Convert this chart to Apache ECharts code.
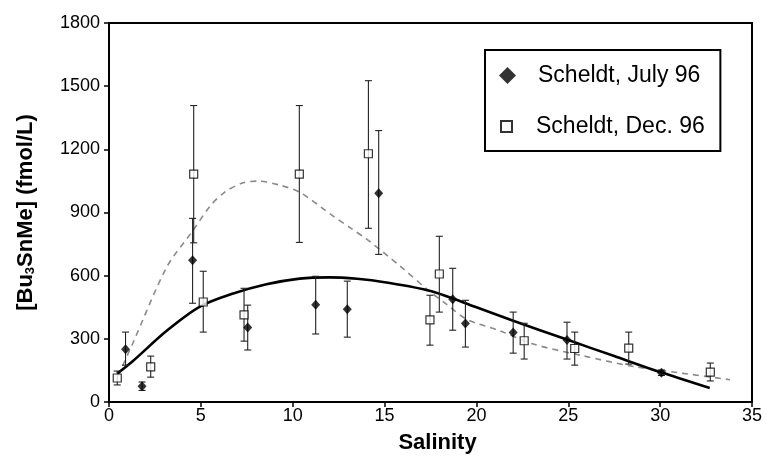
<!DOCTYPE html>
<html>
<head>
<meta charset="utf-8">
<script src="https://cdn.jsdelivr.net/npm/echarts@6/dist/echarts.min.js"></script>
<style>
html,body{margin:0;padding:0;background:#fff;}
#chart{width:767px;height:459px;}
</style>
</head>
<body>
<div id="chart"></div>
<script>
// ---- Data ----
var xTicks = [0, 5, 10, 15, 20, 25, 30, 35];
var yTicks = [0, 300, 600, 900, 1200, 1500, 1800];

// Scheldt, July 96 (filled diamonds)
var julyS  = [0.9, 1.8, 4.55, 7.55, 11.25, 12.97, 14.68, 18.71, 19.4, 22.0, 24.93, 30.07];
var julyV  = [251, 75, 673, 354, 462, 441, 991, 488, 373, 330, 294, 139];
var julyLo = [175, 55, 469, 247, 323, 308, 701, 341, 261, 232, 204, 126];
var julyHi = [332, 95, 872, 460, 597, 574, 1289, 635, 483, 427, 379, 152];

// Scheldt, Dec. 96 (open squares)
var decS  = [0.45, 2.27, 4.61, 5.13, 7.35, 10.36, 14.12, 17.47, 17.98, 22.6, 25.35, 28.29, 32.73];
var decV  = [114, 167, 1082, 475, 414, 1082, 1179, 390, 608, 291, 254, 256, 142];
var decLo = [81, 118, 756, 332, 289, 758, 825, 270, 427, 204, 175, 180, 100];
var decHi = [147, 218, 1408, 621, 540, 1408, 1526, 507, 787, 374, 332, 332, 185];

// Fitted curves
var julyFitS = [0.45, 1.32, 3.14, 4.95, 6.76, 8.57, 10.38, 12, 13.5, 15, 17.5, 20, 22, 25, 27.5, 30, 32.7];
var julyFitV = [135, 196, 338, 453, 515, 559, 586, 592, 585, 569, 527, 450, 386, 294, 218, 142, 66];
var decFitS = [0.5, 1.32, 3.14, 4.55, 5.5, 6.3, 7.3, 8.13, 9.3, 10.4, 12.2, 13.12, 14.03, 15.84, 17.3, 18.38, 19.47, 21.28, 23.1, 25.82, 28.54, 31.26, 33.8];
var decFitV = [125, 284, 640, 812, 930, 997, 1041, 1049, 1030, 995, 883, 828, 773, 646, 536, 464, 393, 338, 275, 219, 169, 136, 106];

var julyName = 'Scheldt, July 96';
var decName = 'Scheldt, Dec. 96';

function zip2(a, b) { return a.map(function (v, i) { return [v, b[i]]; }); }
function zip3(a, b, c) { return a.map(function (v, i) { return [v, b[i], c[i]]; }); }

function errRender(params, api) {
  var x = api.value(0), lo = api.value(1), hi = api.value(2);
  var p1 = api.coord([x, hi]), p2 = api.coord([x, lo]);
  var w = 3.5;
  var st = { stroke: '#222', lineWidth: 1.1 };
  return {
    type: 'group',
    children: [
      { type: 'line', shape: { x1: p1[0], y1: p1[1], x2: p2[0], y2: p2[1] }, style: st },
      { type: 'line', shape: { x1: p1[0] - w, y1: p1[1], x2: p1[0] + w, y2: p1[1] }, style: st },
      { type: 'line', shape: { x1: p2[0] - w, y1: p2[1], x2: p2[0] + w, y2: p2[1] }, style: st }
    ]
  };
}

var FONT = '"Liberation Sans", Arial, sans-serif';
var chart = echarts.init(document.getElementById('chart'), null, { renderer: 'canvas' });

chart.setOption({
  animation: false,
  backgroundColor: '#fff',
  textStyle: { fontFamily: FONT, color: '#000' },
  grid: {
    left: 109, right: 15, top: 23, bottom: 56,
    show: true, borderColor: '#000', borderWidth: 2, backgroundColor: 'transparent'
  },
  legend: [
    {
      data: [julyName],
      left: 485, top: 50,
      orient: 'vertical',
      itemWidth: 17, itemHeight: 17,
      padding: [14, 20, 64, 14],
      borderColor: '#000', borderWidth: 2, backgroundColor: '#fff',
      selectedMode: false,
      formatter: function (n) { return '{t|' + n + '}'; },
      textStyle: {
        fontFamily: FONT, fontSize: 23, color: '#000',
        rich: { t: { fontFamily: FONT, fontSize: 23, color: '#000', padding: [0, 0, 0, 17] } }
      }
    },
    {
      data: [decName],
      left: 500, top: 115,
      orient: 'vertical',
      itemWidth: 11, itemHeight: 11,
      padding: 0,
      selectedMode: false,
      formatter: function (n) { return '{t|' + n + '}'; },
      textStyle: {
        fontFamily: FONT, fontSize: 23, color: '#000',
        rich: { t: { fontFamily: FONT, fontSize: 23, color: '#000', padding: [0, 0, 0, 19] } }
      }
    }
  ],
  xAxis: {
    type: 'value', min: xTicks[0], max: xTicks[xTicks.length - 1], interval: 5,
    name: 'Salinity', nameLocation: 'middle', nameGap: 30,
    nameTextStyle: { fontFamily: FONT, fontSize: 22, fontWeight: 'bold', color: '#000', padding: [0, 0, 0, 14] },
    axisLine: { show: true, onZero: false, lineStyle: { color: '#000', width: 2 } },
    axisTick: { show: true, inside: false, length: 5, lineStyle: { color: '#000', width: 1.5 } },
    axisLabel: { fontFamily: FONT, fontSize: 18, color: '#000', margin: 5, formatter: function (v) { return String(v); } },
    splitLine: { show: false }
  },
  yAxis: {
    type: 'value', min: yTicks[0], max: yTicks[yTicks.length - 1], interval: 300,
    name: '{a|[Bu}{s|3}{a|SnMe] (fmol/L)}', nameLocation: 'middle', nameGap: 72, nameRotate: 90,
    nameTextStyle: {
      fontFamily: FONT, fontSize: 22, fontWeight: 'bold', color: '#000',
      rich: {
        a: { fontFamily: FONT, fontSize: 22, fontWeight: 'bold', color: '#000' },
        s: { fontFamily: FONT, fontSize: 13, fontWeight: 'bold', color: '#000', verticalAlign: 'bottom', padding: [8, 0, 0, 0] }
      }
    },
    axisLine: { show: true, lineStyle: { color: '#000', width: 2 } },
    axisTick: { show: true, inside: false, length: 5, lineStyle: { color: '#000', width: 1.5 } },
    axisLabel: { fontFamily: FONT, fontSize: 18, color: '#000', margin: 9, formatter: function (v) { return String(v); } },
    splitLine: { show: false }
  },
  series: [
    {
      name: 'decFit', type: 'line', data: zip2(decFitS, decFitV), smooth: 0.3,
      showSymbol: false, symbol: 'none', z: 2,
      lineStyle: { color: '#8a8a8a', width: 1.6, type: [6, 5] }
    },
    {
      name: 'julyFit', type: 'line', data: zip2(julyFitS, julyFitV), smooth: 0.3,
      showSymbol: false, symbol: 'none', z: 3,
      lineStyle: { color: '#000', width: 2.6 }
    },
    {
      name: 'decErr', type: 'custom', renderItem: errRender, data: zip3(decS, decLo, decHi),
      encode: { x: 0, y: [1, 2] }, z: 4
    },
    {
      name: 'julyErr', type: 'custom', renderItem: errRender, data: zip3(julyS, julyLo, julyHi),
      encode: { x: 0, y: [1, 2] }, z: 4
    },
    {
      name: decName, type: 'scatter', data: zip2(decS, decV), symbol: 'rect', symbolSize: 8, z: 5,
      itemStyle: { color: '#fff', borderColor: '#000', borderWidth: 1.2 }
    },
    {
      name: julyName, type: 'scatter', data: zip2(julyS, julyV), symbol: 'diamond', symbolSize: [9, 10], z: 6,
      itemStyle: { color: '#000' }
    }
  ]
});
</script>
</body>
</html>
